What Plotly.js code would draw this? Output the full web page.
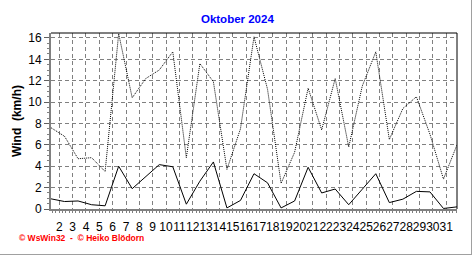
<!DOCTYPE html>
<html>
<head>
<meta charset="utf-8">
<script src="https://cdn.plot.ly/plotly-3.0.1.min.js"></script>
<style>
  html, body { margin: 0; padding: 0; background: #ffffff; }
  #chart { width: 471px; height: 254px; border-right: 1px solid #a0a0a0; border-bottom: 1px solid #a0a0a0; }
</style>
</head>
<body>
<div id="chart"></div>
<script>
// Day of month for each data point
const days = [1,2,3,4,5,6,7,8,9,10,11,12,13,14,15,16,17,18,19,20,21,22,23,24,25,26,27,28,29,30,31];
// Gusts (dotted line), km/h
const gust = [7.6,6.8,4.7,4.8,3.5,16.4,10.4,12.2,13.0,14.7,4.8,13.6,11.9,3.7,7.5,16.1,11.2,2.4,5.3,11.3,7.4,12.2,5.8,11.5,14.7,6.5,9.4,10.5,7.0,2.8,6.0];
// Average wind (solid line), km/h
const avgWind = [0.95,0.7,0.75,0.4,0.3,4.0,1.9,3.0,4.15,3.95,0.45,2.6,4.4,0.1,0.8,3.3,2.45,0.1,0.75,3.9,1.5,1.87,0.4,1.85,3.3,0.6,0.92,1.65,1.6,0.05,0.2];
// Axis tick labels
const xTickVals = [2,3,4,5,6,7,8,9,10,11,12,13,14,15,16,17,18,19,20,21,22,23,24,25,26,27,28,29,30,31];
const xTickText = xTickVals.map(String);
const yTickVals = [0,2,4,6,8,10,12,14,16];

const titleText = 'Oktober 2024';
const yTitleText = 'Wind  (km/h)';
const footerText = '\u00a9 WsWin32  -  \u00a9 Heiko Bl\u00f6dorn';

const FONT = 'Liberation Sans, Arial, sans-serif';
const GRID = '#808080';

const traces = [
  // empty trace so the labelled day axis gets its own subplot
  { x: [], y: [], xaxis: 'x', yaxis: 'y', type: 'scatter', mode: 'lines', hoverinfo: 'skip' },
  { x: days, y: gust, xaxis: 'x2', yaxis: 'y', type: 'scatter', mode: 'lines',
    line: { color: '#000000', width: 1, dash: '1px,1px' }, hoverinfo: 'skip' },
  { x: days, y: avgWind, xaxis: 'x2', yaxis: 'y', type: 'scatter', mode: 'lines',
    line: { color: '#000000', width: 1 }, hoverinfo: 'skip' }
];

const layout = {
  width: 471, height: 254,
  margin: { l: 51, r: 14, t: 33, b: 45, pad: 0 },
  paper_bgcolor: '#ffffff', plot_bgcolor: '#ffffff',
  showlegend: false,
  font: { family: FONT, size: 12, color: '#000000' },
  title: {
    text: titleText,
    font: { family: FONT, size: 11.5, color: '#0000ff', weight: 'bold' },
    xref: 'container', x: 0.504, xanchor: 'center',
    yref: 'container', y: 1 - 19/254, yanchor: 'middle'
  },
  xaxis: {
    range: [1.378, 31.81], fixedrange: true,
    tickmode: 'array', tickvals: xTickVals, ticktext: xTickText, tickangle: 0,
    showgrid: true, gridcolor: GRID, griddash: '4px,3px', gridwidth: 1,
    showline: true, linecolor: GRID, linewidth: 2,
    ticks: 'outside', ticklen: 2, tickcolor: GRID, tickwidth: 1,
    minor: { dtick: 0.25, tick0: 2, ticks: 'outside', ticklen: 2, tickcolor: GRID, showgrid: false },
    ticklabelstandoff: 4,
    tickfont: { family: FONT, size: 12, color: '#000000' },
    zeroline: false
  },
  xaxis2: { overlaying: 'x', range: [1, 31], visible: false, fixedrange: true },
  yaxis: {
    range: [0, 16.46], fixedrange: true,
    tickmode: 'array', tickvals: yTickVals,
    showgrid: true, gridcolor: GRID, griddash: '4px,3px', gridwidth: 1,
    showline: true, linecolor: GRID, linewidth: 2,
    ticks: 'outside', ticklen: 5, tickcolor: '#606060', tickwidth: 1,
    minor: { dtick: 0.5, ticks: 'outside', ticklen: 2, tickcolor: GRID, showgrid: false },
    tickfont: { family: FONT, size: 12, color: '#000000' },
    zeroline: false,
    title: { text: yTitleText, font: { family: FONT, size: 12, color: '#000000', weight: 'bold' }, standoff: 4 }
  },
  shapes: [
    { type: 'line', xref: 'paper', yref: 'paper', x0: 0, x1: 1, y0: 1, y1: 1, line: { color: '#000000', width: 1 } },
    { type: 'line', xref: 'paper', yref: 'paper', x0: 1, x1: 1, y0: 0, y1: 1, line: { color: '#000000', width: 1 } }
  ],
  annotations: [
    { text: footerText, xref: 'paper', yref: 'paper', x: (17 - 51) / 406, y: (209 - 238) / 176,
      xanchor: 'left', yanchor: 'middle', showarrow: false,
      font: { family: FONT, size: 8.5, color: '#ff0000', weight: 'bold' } }
  ]
};

Plotly.newPlot('chart', traces, layout, { staticPlot: true, displayModeBar: false });
</script>
</body>
</html>
